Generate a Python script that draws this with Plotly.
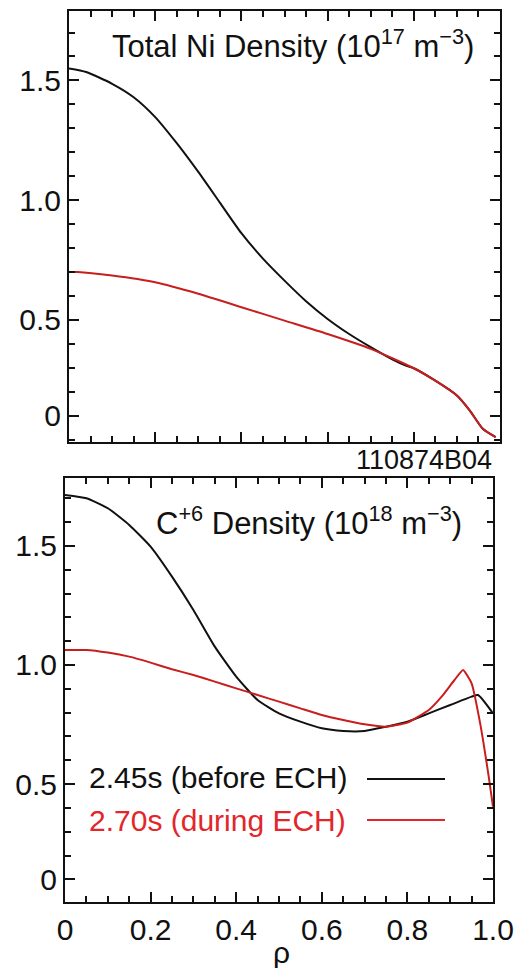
import plotly.graph_objects as go

# ---------------- data ----------------
rho_ni_black = [0.0, 0.04, 0.10, 0.15, 0.20, 0.25, 0.30, 0.35, 0.40, 0.45, 0.50, 0.55, 0.60, 0.65, 0.70, 0.75, 0.78,
                0.80, 0.85, 0.90, 0.93, 0.96, 0.99]
ni_black = [1.55, 1.535, 1.486, 1.43, 1.347, 1.238, 1.118, 0.99, 0.862, 0.756, 0.664, 0.578, 0.504, 0.441, 0.386, 0.335, 0.31,
            0.298, 0.246, 0.184, 0.121, 0.045, 0.01]

rho_ni_red = [0.0, 0.02, 0.10, 0.20, 0.30, 0.40, 0.50, 0.60, 0.70, 0.80, 0.85, 0.90, 0.93, 0.96, 0.99]
ni_red = [0.70, 0.70, 0.685, 0.657, 0.609, 0.553, 0.497, 0.441, 0.379, 0.298, 0.246, 0.184, 0.121, 0.045, 0.01]

rho_c_black = [0.0, 0.05, 0.10, 0.15, 0.20, 0.25, 0.30, 0.35, 0.40, 0.45, 0.50, 0.55, 0.60, 0.65, 0.70, 0.75,
               0.80, 0.85, 0.90, 0.95, 0.965, 1.0]
c_black = [1.714, 1.70, 1.658, 1.588, 1.497, 1.371, 1.231, 1.077, 0.951, 0.853, 0.797, 0.762, 0.734, 0.723, 0.723, 0.741,
           0.762, 0.797, 0.832, 0.867, 0.874, 0.797]

rho_c_red = [0.0, 0.05, 0.10, 0.15, 0.20, 0.25, 0.30, 0.35, 0.40, 0.45, 0.50, 0.55, 0.60, 0.65, 0.70, 0.75,
             0.80, 0.85, 0.88, 0.91, 0.93, 0.95, 0.97, 0.99, 1.0]
c_red = [1.063, 1.063, 1.052, 1.035, 1.01, 0.982, 0.958, 0.93, 0.902, 0.874, 0.846, 0.818, 0.79, 0.769, 0.751, 0.741,
         0.758, 0.811, 0.867, 0.937, 0.979, 0.923, 0.755, 0.531, 0.405]

y_tickvals = [0.1, 0.5, 1.0, 1.5]
y_ticktext = ["0", "0.5", "1.0", "1.5"]
x_tickvals = [0, 0.2, 0.4, 0.6, 0.8, 1.0]
x_ticktext = ["0", "0.2", "0.4", "0.6", "0.8", "1.0"]

legend_labels = ["2.45s (before ECH)", "2.70s (during ECH)"]
title_top = "Total Ni Density (10<sup>17</sup> m<sup>\u22123</sup>)"
title_bot = "C<sup>+6</sup> Density (10<sup>18</sup> m<sup>\u22123</sup>)"
shot_label = "110874B04"

# ---------------- style ----------------
FONT = "Liberation Sans, Arial, sans-serif"
BLACK = "#111111"
RED = "#c81e1e"
RED_TEXT = "#e2262a"
W, H = 515, 968

fig = go.Figure()
fig.add_trace(go.Scatter(x=rho_ni_black, y=ni_black, mode="lines",
                         line=dict(color=BLACK, width=2, shape="spline", smoothing=0.6),
                         xaxis="x", yaxis="y", showlegend=False))
fig.add_trace(go.Scatter(x=rho_ni_red, y=ni_red, mode="lines",
                         line=dict(color=RED, width=2, shape="spline", smoothing=0.6),
                         xaxis="x", yaxis="y", showlegend=False))
fig.add_trace(go.Scatter(x=rho_c_black, y=c_black, mode="lines",
                         line=dict(color=BLACK, width=2, shape="spline", smoothing=0.5),
                         xaxis="x2", yaxis="y2", showlegend=False))
fig.add_trace(go.Scatter(x=rho_c_red, y=c_red, mode="lines",
                         line=dict(color=RED, width=2, shape="spline", smoothing=0.4),
                         xaxis="x2", yaxis="y2", showlegend=False))


def px_x(p):
    return p / W


def px_y(p):
    return (H - p) / H


common = dict(showline=True, linecolor=BLACK, linewidth=2, mirror="ticks", ticks="inside",
              ticklen=10, tickwidth=1.5, tickcolor=BLACK, showgrid=False, zeroline=False,
              automargin=False, tickfont=dict(family=FONT, size=30, color=BLACK))
minor_x = dict(dtick=0.05, tick0=0, ticks="inside", ticklen=6, tickwidth=1.5, tickcolor=BLACK)
minor_y = dict(dtick=0.1, tick0=0, ticks="inside", ticklen=6, tickwidth=1.5, tickcolor=BLACK)

fig.update_layout(
    width=W, height=H, margin=dict(l=0, r=0, t=0, b=0),
    paper_bgcolor="white", plot_bgcolor="white",
    xaxis=dict(domain=[px_x(69), px_x(500)], range=[0, 1.0], anchor="y",
               tickvals=x_tickvals, showticklabels=False, minor=minor_x, **common),
    yaxis=dict(domain=[px_y(442), px_y(11)], range=[-0.01, 1.79], anchor="x",
               tickvals=y_tickvals, ticktext=y_ticktext, minor=minor_y, **common),
    xaxis2=dict(domain=[px_x(65), px_x(493)], range=[0, 1.0], anchor="y2",
                tickvals=x_tickvals, ticktext=x_ticktext, minor=minor_x, **common),
    yaxis2=dict(domain=[px_y(902), px_y(478)], range=[0.005, 1.785], anchor="x2",
                tickvals=y_tickvals, ticktext=y_ticktext, minor=minor_y, **common),
)

title_font = dict(family=FONT, size=31, color=BLACK)
fig.add_annotation(text=title_top, xref="paper", yref="paper", x=px_x(476), y=px_y(44),
                   xanchor="right", yanchor="middle", showarrow=False, font=title_font)
fig.add_annotation(text=title_bot, xref="paper", yref="paper", x=px_x(464), y=px_y(521),
                   xanchor="right", yanchor="middle", showarrow=False, font=title_font)
fig.add_annotation(text=shot_label, xref="paper", yref="paper", x=px_x(494), y=px_y(460),
                   xanchor="right", yanchor="middle", showarrow=False,
                   font=dict(family=FONT, size=27, color=BLACK))
fig.add_annotation(text="\u03c1", xref="paper", yref="paper", x=px_x(281), y=px_y(952),
                   xanchor="center", yanchor="middle", showarrow=False,
                   font=dict(family=FONT, size=30, color=BLACK))

# legend (text left, line sample right)
leg_font = dict(family=FONT, size=30, color=BLACK)
fig.add_annotation(text=legend_labels[0], xref="paper", yref="paper", x=px_x(87), y=px_y(778),
                   xanchor="left", yanchor="middle", showarrow=False, font=leg_font)
fig.add_annotation(text=legend_labels[1], xref="paper", yref="paper", x=px_x(87), y=px_y(820),
                   xanchor="left", yanchor="middle", showarrow=False,
                   font=dict(family=FONT, size=30, color=RED_TEXT))
fig.add_shape(type="line", xref="paper", yref="paper", x0=px_x(367), x1=px_x(445),
              y0=px_y(779), y1=px_y(779), line=dict(color=BLACK, width=2))
fig.add_shape(type="line", xref="paper", yref="paper", x0=px_x(367), x1=px_x(445),
              y0=px_y(820), y1=px_y(820), line=dict(color=RED_TEXT, width=2))

fig.write_html("out.html")
